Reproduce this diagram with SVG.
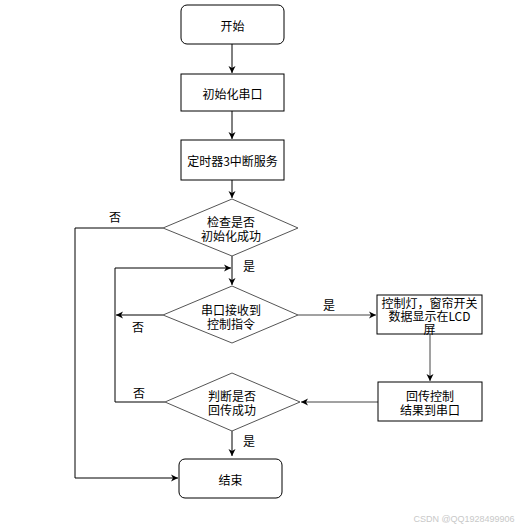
<svg xmlns="http://www.w3.org/2000/svg" width="522" height="530" viewBox="0 0 522 530">
<defs>
<marker id="ah" markerWidth="8" markerHeight="8" refX="7" refY="4" orient="auto" markerUnits="userSpaceOnUse">
<path d="M0,0.5 L7,4 L0,7.5 L2,4 Z" fill="#000"/>
</marker>
</defs>
<style>
.box{fill:#fff;stroke:#000;stroke-width:1}
.dia{fill:#fff;stroke:#555;stroke-width:1}
.t{font-family:"Noto Sans CJK SC","Liberation Sans",sans-serif;font-size:12px;fill:#000;text-anchor:middle;dominant-baseline:central}
.l{font-family:"Noto Sans CJK SC","Liberation Sans",sans-serif;font-size:12px;fill:#000;text-anchor:middle;dominant-baseline:central}
.c{fill:none;stroke:#000;stroke-width:1}
.g{fill:none;stroke:#444;stroke-width:1}
</style>
<rect width="522" height="530" fill="#fff"/>
<g id="connectors">
<path class="c" d="M232,44 V73" marker-end="url(#ah)"/>
<path class="c" d="M232,111 V139" marker-end="url(#ah)"/>
<path class="c" d="M232,180 V198" marker-end="url(#ah)"/>
<path class="c" d="M232,256 V285" marker-end="url(#ah)"/>
<path class="c" d="M163,228 H75 V478 H178" marker-end="url(#ah)"/>
<path class="c" d="M165,402 H115 V268 H231" marker-end="url(#ah)"/>
<path class="c" d="M163,315 H116" marker-end="url(#ah)"/>
<path class="g" d="M298,315 H376" marker-end="url(#ah)"/>
<path class="g" d="M430,334 V381" marker-end="url(#ah)"/>
<path class="g" d="M378,402 H301" marker-end="url(#ah)"/>
<path class="c" d="M232,431 V456" marker-end="url(#ah)"/>
<text class="l" x="115" y="216">否</text>
<text class="l" x="249" y="265">是</text>
<text class="l" x="138" y="326">否</text>
<text class="l" x="329" y="304">是</text>
<text class="l" x="139" y="392">否</text>
<text class="l" x="249" y="440">是</text>
</g>
<g id="start">
<rect class="box" x="181" y="5" width="103" height="39" rx="6"/>
<text class="t" x="232.5" y="25">开始</text>
</g>
<g id="init">
<rect class="box" x="181" y="74" width="103" height="37"/>
<text class="t" x="232.5" y="93">初始化串口</text>
</g>
<g id="timer">
<rect class="box" x="181" y="140" width="103" height="40"/>
<text class="t" x="232.5" y="160">定时器3中断服务</text>
</g>
<g id="check">
<polygon class="dia" points="232,199 298,228 232,256 163,228"/>
<text class="t" x="231" y="221">检查是否</text>
<text class="t" x="231" y="235">初始化成功</text>
</g>
<g id="receive">
<polygon class="dia" points="232,286 298,315 232,343 163,315"/>
<text class="t" x="231" y="309">串口接收到</text>
<text class="t" x="231" y="323">控制指令</text>
</g>
<g id="control">
<rect class="box" x="377" y="295" width="105" height="39"/>
<text class="t" x="429.5" y="302">控制灯，窗帘开关</text>
<text class="t" x="429.5" y="315">数据显示在LCD</text>
<text class="t" x="429.5" y="328">屏</text>
</g>
<g id="reply">
<rect class="box" x="378" y="382" width="104" height="39"/>
<text class="t" x="430" y="395">回传控制</text>
<text class="t" x="430" y="409">结果到串口</text>
</g>
<g id="judge">
<polygon class="dia" points="232,373 300,402 232,431 165,402"/>
<text class="t" x="232" y="395">判断是否</text>
<text class="t" x="232" y="409">回传成功</text>
</g>
<g id="end">
<rect class="box" x="179" y="459" width="103" height="39" rx="6"/>
<text class="t" x="230.5" y="479">结束</text>
</g>
<text x="464" y="519" style="font-family:'Liberation Sans',sans-serif;font-size:9px;fill:#c8c8c8;text-anchor:middle;dominant-baseline:central">CSDN @QQ1928499906</text>
</svg>
